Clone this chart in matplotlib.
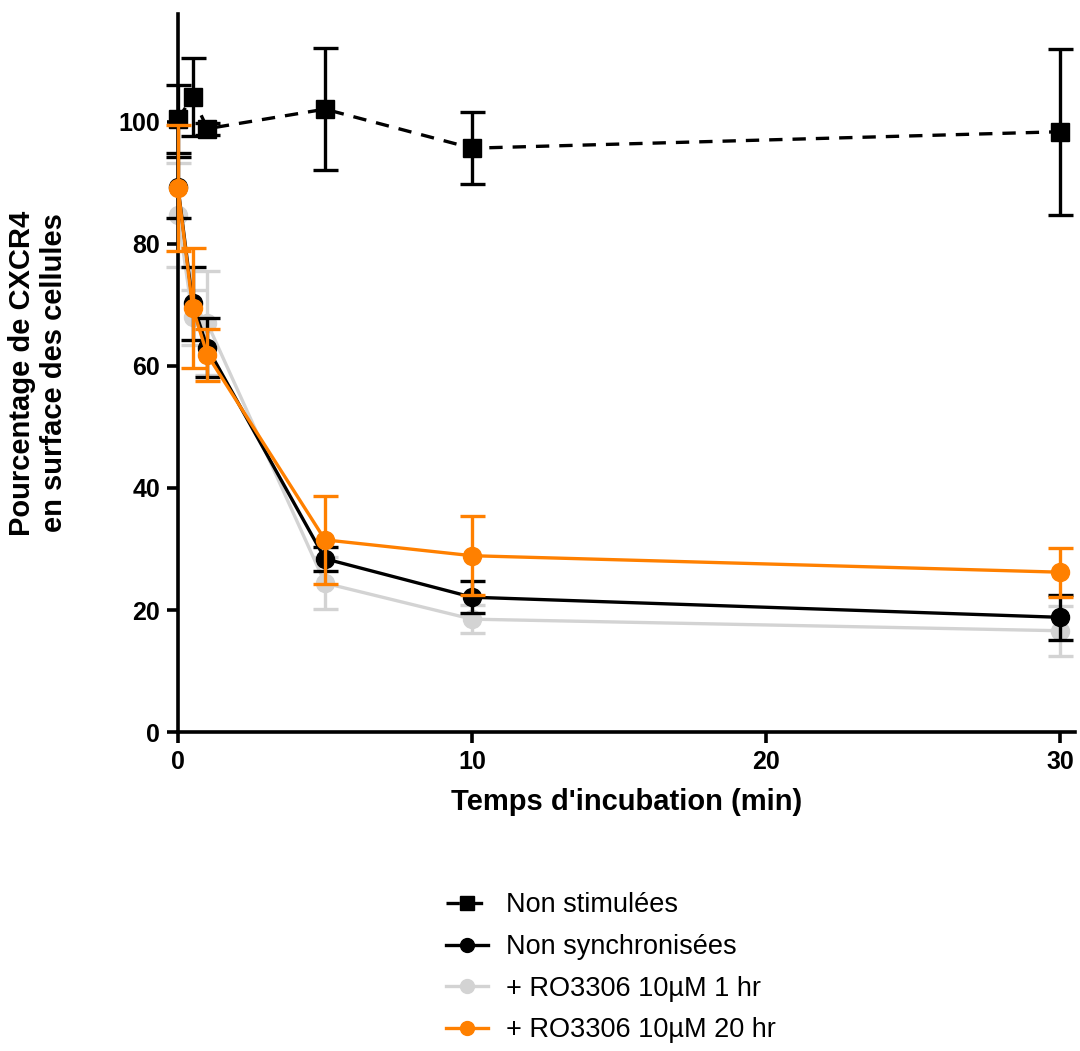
import matplotlib.pyplot as plt
from matplotlib.lines import Line2D

plt.rcParams['font.family'] = ['Liberation Sans', 'DejaVu Sans']

# temps (min)
temps = [0, 0.5, 1, 5, 10, 30]

# Non stimulées
ns_moy = [100.5, 104.1, 98.9, 102.1, 95.7, 98.4]
ns_err = [5.6, 6.4, 1.0, 10.0, 5.9, 13.6]

# Non synchronisées
sync_moy = [89.3, 70.3, 63.0, 28.4, 22.1, 18.8]
sync_err = [5.0, 6.0, 4.8, 2.0, 2.6, 3.7]

# + RO3306 10µM 1 hr
ro1_moy = [84.8, 68.0, 67.0, 24.4, 18.5, 16.6]
ro1_err = [8.5, 4.5, 8.5, 4.3, 2.3, 4.1]

# + RO3306 10µM 20 hr
ro20_moy = [89.2, 69.5, 61.8, 31.5, 28.9, 26.2]
ro20_err = [10.3, 9.8, 4.3, 7.2, 6.5, 4.0]

labels = ['Non stimulées', 'Non synchronisées', '+ RO3306 10µM 1 hr', '+ RO3306 10µM 20 hr']

gris = '#d3d3d3'
orange = '#ff8000'

fig = plt.figure(figsize=(10.8, 10.51), dpi=100)
ax = fig.add_axes([0.1648, 0.3035, 0.8306, 0.6832])

common = dict(linewidth=2.4, elinewidth=2.4, capsize=9, capthick=2.4, markersize=13, clip_on=False)

series = [
    (ns_moy, ns_err, 'black', 's', '--', 3),
    (sync_moy, sync_err, 'black', 'o', '-', 4),
    (ro1_moy, ro1_err, gris, 'o', '-', 2),
    (ro20_moy, ro20_err, orange, 'o', '-', 5),
]

handles = []
for (moy, err, col, mk, ls, z), lab in zip(series, labels):
    c = ax.errorbar(temps, moy, yerr=err, color=col, marker=mk, linestyle=ls, zorder=z, **common)
    if ls == '--':
        c.lines[0].set_dashes((4, 3))
    handles.append(Line2D([], [], color=col, marker=mk, linestyle=ls, linewidth=2.4,
                          markersize=10, dashes=(4, 3) if ls == '--' else (None, None)))

ax.set_xlim(0, 30.5)
ax.set_ylim(0, 117.7)
ax.set_xticks([0, 10, 20, 30])
ax.set_yticks([0, 20, 40, 60, 80, 100])

for s in ['top', 'right']:
    ax.spines[s].set_visible(False)
for s in ['left', 'bottom']:
    ax.spines[s].set_linewidth(2.6)
ax.tick_params(width=2.6, length=8, labelsize=18, pad=5)
for lab in ax.get_xticklabels() + ax.get_yticklabels():
    lab.set_fontweight('bold')

ax.set_xlabel("Temps d'incubation (min)", fontsize=21, fontweight='bold', labelpad=10)
ax.set_ylabel('Pourcentage de CXCR4\nen surface des cellules', fontsize=21,
              fontweight='bold', labelpad=36)

fig.legend(handles, labels, loc='upper left', bbox_to_anchor=(0.395, 0.169),
           frameon=False, fontsize=19.5, handlelength=1.55, labelspacing=0.58,
           handletextpad=0.7, borderaxespad=0.3)

fig.savefig('out.png', dpi=100)
plt.close(fig)
